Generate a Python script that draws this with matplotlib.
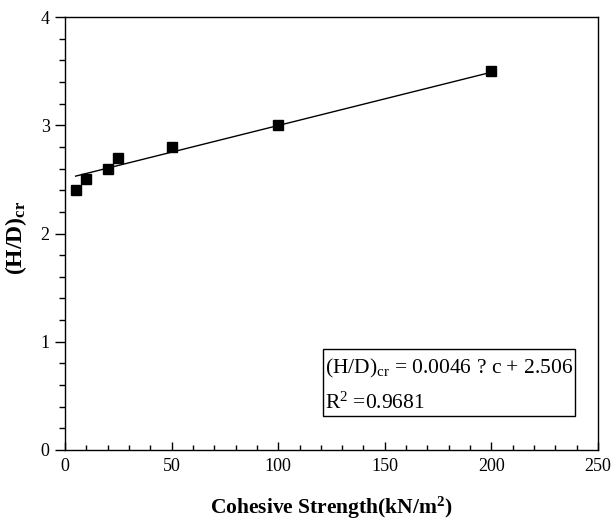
import matplotlib
matplotlib.use("Agg")
import matplotlib.pyplot as plt
from matplotlib.ticker import MultipleLocator
from matplotlib.patches import Rectangle

# Data
cohesion = [5, 10, 20, 25, 50, 100, 200]
hd_cr = [2.4, 2.5, 2.6, 2.7, 2.8, 3.0, 3.5]
fit_x = [5, 200]
fit_y = [2.53, 3.49]
x_ticks = [0, 50, 100, 150, 200, 250]
y_ticks = [0, 1, 2, 3, 4]
eq_text = r"(H/D)$_{\rm cr}$ = 0.0046 ? c + 2.506"
r2_text = r"R$^{2}$ =0.9681"

plt.rcParams['font.family'] = ['Liberation Serif', 'DejaVu Serif']
plt.rcParams['mathtext.fontset'] = 'custom'
plt.rcParams['mathtext.rm'] = 'Liberation Serif'
plt.rcParams['mathtext.it'] = 'Liberation Serif:italic'
plt.rcParams['mathtext.bf'] = 'Liberation Serif:bold'

fig = plt.figure(figsize=(6.11, 5.23), dpi=100)
ax = fig.add_axes([65/611, 1 - 450/523, (598-65)/611, (450-17)/523])

ax.plot(fit_x, fit_y, color='black', lw=1.0, zorder=2)
ax.plot(cohesion, hd_cr, ls='none', marker='s', ms=7.5, color='black', zorder=3)

ax.set_xlim(0, 250)
ax.set_ylim(0, 4)
ax.set_xticks(x_ticks)
ax.set_yticks(y_ticks)
ax.xaxis.set_minor_locator(MultipleLocator(10))
ax.yaxis.set_minor_locator(MultipleLocator(0.2))
ax.tick_params(axis='x', which='both', direction='in', top=False, labelsize=13, pad=6)
ax.tick_params(axis='x', which='major', length=6, width=1)
ax.tick_params(axis='x', which='minor', length=3.5, width=1)
ax.tick_params(axis='y', which='both', direction='out', right=False, labelsize=13, pad=4)
ax.tick_params(axis='y', which='major', length=7, width=1)
ax.tick_params(axis='y', which='minor', length=4, width=1)
for s in ax.spines.values():
    s.set_linewidth(1.0)

ax.set_xlabel(r"Cohesive Strength(kN/m$^{\mathbf{2}}$)", fontsize=15.5, fontweight='bold', labelpad=14)
ax.set_ylabel(r"(H/D)$_{\mathbf{cr}}$", fontsize=17, fontweight='bold')
ax.yaxis.set_label_coords(-(65-29)/533, 0.49)

# annotation box
bx0, by0 = (323-65)/533, (450-416)/433
bw, bh = (575-323)/533, (416-349)/433
ax.add_patch(Rectangle((bx0, by0), bw, bh, transform=ax.transAxes, fill=False,
                       edgecolor='black', lw=1.0, zorder=4))
ax.text((325-65)/533, (450-368)/433, eq_text, transform=ax.transAxes,
        fontsize=15.5, va='center', ha='left')
ax.text((325-65)/533, (450-403)/433, r2_text, transform=ax.transAxes,
        fontsize=15.5, va='center', ha='left')

fig.savefig("out.png", dpi=100)
